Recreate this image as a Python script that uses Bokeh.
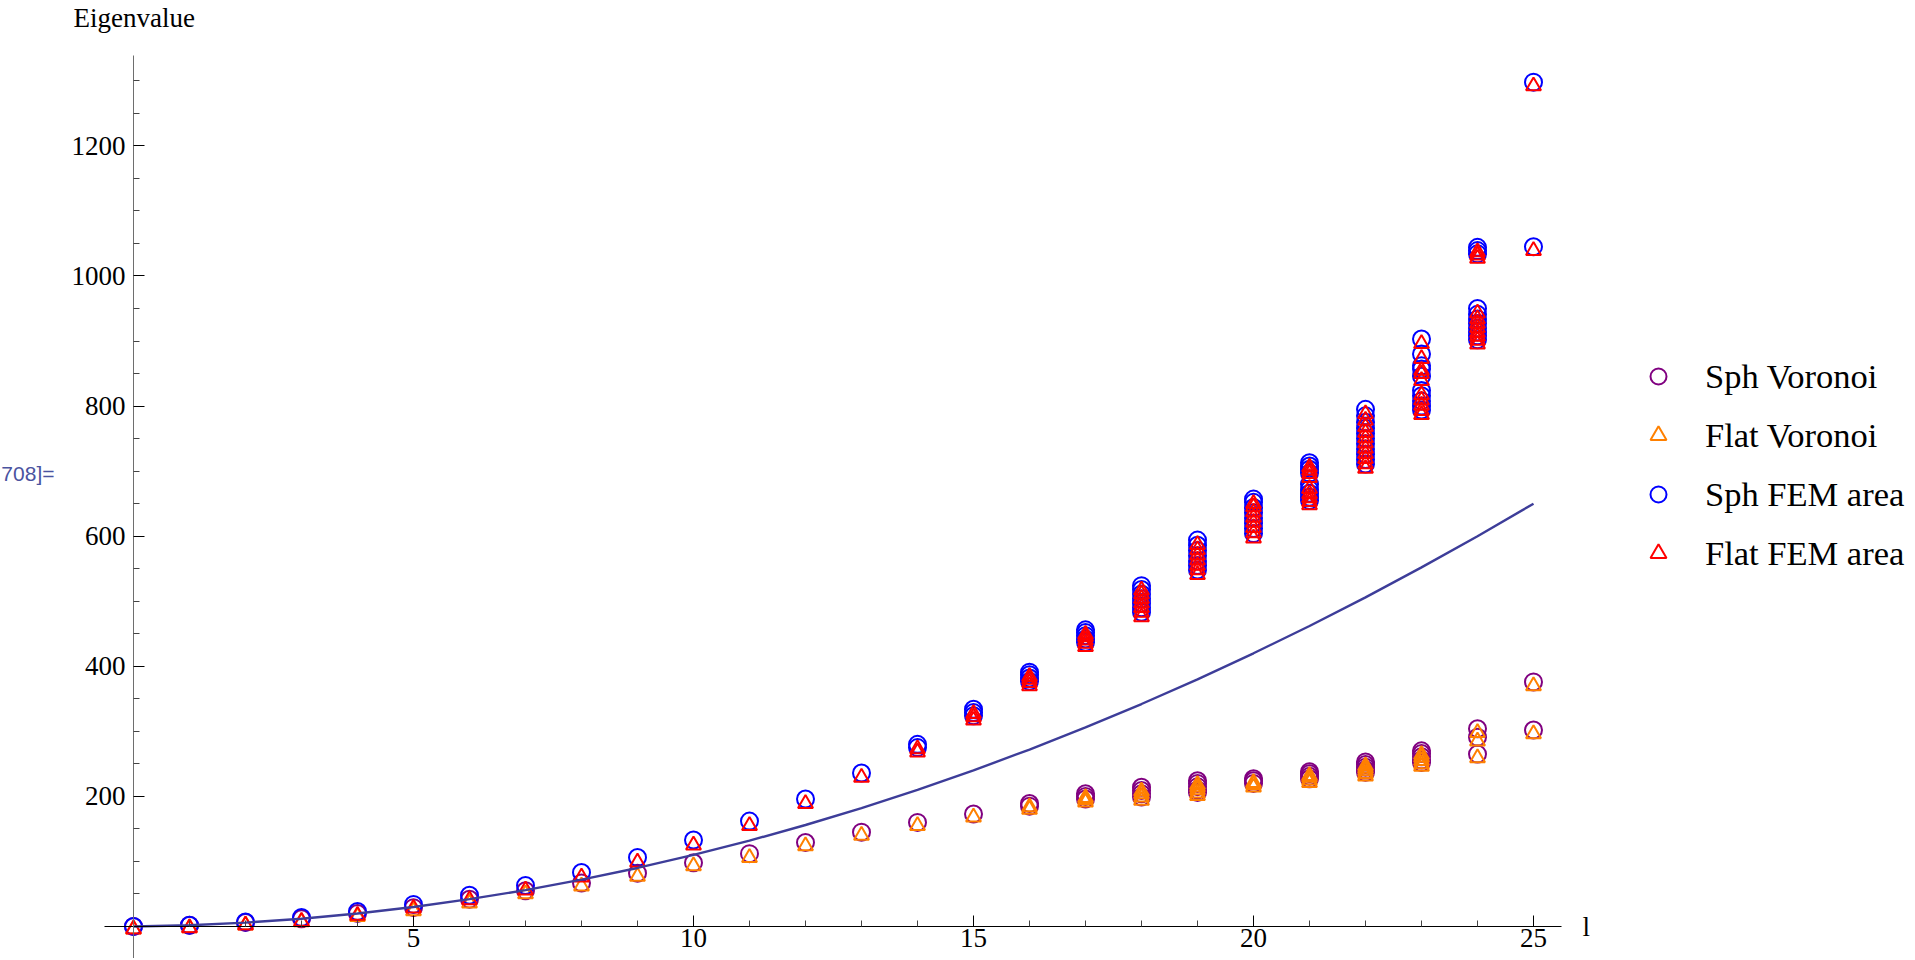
from bokeh.plotting import figure
from bokeh.models import FixedTicker, Legend, LegendItem, Label, Range1d
from bokeh.embed import file_html
from bokeh.resources import INLINE

# ---------------- data ----------------
l_values = list(range(26))

# eigenvalues per l (index = l)
sph_voronoi = [
    [0], [2], [6], [12], [20], [29], [42], [55], [67], [82], [98], [112], [129],
    [145], [160], [173], [185, 189], [196, 200, 204], [199, 204, 209, 214],
    [206, 210, 215, 220, 224], [220, 224, 227], [227, 231, 235, 238],
    [237, 241, 245, 249, 253], [252, 256, 261, 266, 270], [265, 291, 304],
    [302, 376],
]
flat_voronoi = [
    [-4], [-2], [2], [7], [15], [24], [36], [50], [62], [77], [93], [106], [124],
    [140], [155], [168], [180, 184], [191, 195, 198], [194, 199, 204, 208],
    [201, 205, 210, 214, 218], [214, 218, 221], [221, 225, 229, 232],
    [231, 235, 239, 243, 247], [246, 250, 255, 260, 264], [259, 285, 298],
    [296, 370],
]
sph_fem = [
    [0], [2], [7], [14], [23], [34], [48], [63], [83], [106], [133], [162], [196],
    [236], [275, 280], [324, 329, 334], [377, 382, 387, 391],
    [437, 442, 447, 452, 456], [483, 490, 497, 504, 511, 518, 524],
    [548, 555, 562, 570, 578, 586, 594], [604, 612, 620, 628, 636, 644, 652, 657],
    [655, 660, 666, 672, 680, 697, 703, 708, 713],
    [711, 718, 726, 734, 742, 750, 758, 766, 775, 785, 795],
    [794, 800, 808, 816, 824, 846, 857, 862, 880, 903],
    [902, 908, 914, 920, 927, 934, 941, 950, 1034, 1039, 1044],
    [1045, 1298],
]
flat_fem = [
    [-4], [-2], [2], [8], [17], [28], [41], [56], [76], [99], [125], [155], [189],
    [229], [268, 273], [317, 322, 327], [370, 375, 380, 384],
    [430, 435, 440, 445, 449], [476, 483, 490, 497, 504, 511, 517],
    [541, 548, 555, 563, 571, 579, 587], [597, 605, 613, 621, 629, 637, 645, 650],
    [648, 653, 659, 665, 673, 690, 696, 701, 706],
    [704, 711, 719, 727, 735, 743, 751, 759, 768, 778, 788],
    [787, 793, 801, 809, 817, 839, 850, 855, 873, 896],
    [895, 901, 907, 913, 920, 927, 934, 943, 1027, 1032, 1037],
    [1039, 1292],
]
# reference curve l(l+1), read at integer l
curve_l = list(range(26))
curve_y = [0, 2, 6, 12, 20, 30, 42, 56, 72, 90, 110, 132, 156, 182, 210, 240,
           272, 306, 342, 380, 420, 462, 506, 552, 600, 650]

x_major = [5, 10, 15, 20, 25]
x_minor = [1, 2, 3, 4, 6, 7, 8, 9, 11, 12, 13, 14, 16, 17, 18, 19, 21, 22, 23, 24]
y_major = [200, 400, 600, 800, 1000, 1200]
y_minor = [50, 100, 150, 250, 300, 350, 450, 500, 550, 650, 700, 750,
           850, 900, 950, 1050, 1100, 1150, 1250, 1300]

series_names = ["Sph Voronoi", "Flat Voronoi", "Sph FEM area", "Flat FEM area"]
series_colors = ["#800080", "#ff8000", "#0000ff", "#ff0000"]
series_markers = ["circle", "triangle", "circle", "triangle"]
series_sizes = [17, 15, 17, 15]
series_data = [sph_voronoi, flat_voronoi, sph_fem, flat_fem]


def flatten(per_l):
    xs, ys = [], []
    for l, vals in zip(l_values, per_l):
        for v in vals:
            xs.append(l)
            ys.append(v)
    return xs, ys


SERIF = "Liberation Serif"

# the plotting frame fills the whole canvas; the axes cross at the origin
p = figure(width=1910, height=958,
           x_range=Range1d(-2.375, 31.732), y_range=Range1d(-49.19, 1423.5),
           output_backend="svg", toolbar_location=None, title=None,
           min_border_left=0, min_border_right=0,
           min_border_top=0, min_border_bottom=0)
p.outline_line_color = None
p.grid.visible = False
p.background_fill_color = "white"
p.border_fill_color = "white"

p.xaxis.fixed_location = 0
p.yaxis.fixed_location = 0
p.xaxis.bounds = (-0.518, 25.5)
p.yaxis.bounds = (-50, 1339)
p.xaxis.ticker = FixedTicker(ticks=x_major, minor_ticks=x_minor)
p.yaxis.ticker = FixedTicker(ticks=y_major, minor_ticks=y_minor)
for ax in (p.xaxis, p.yaxis):
    ax.major_tick_in = 11
    ax.major_tick_out = 0
    ax.minor_tick_in = 6
    ax.minor_tick_out = 0
    ax.major_tick_line_color = "black"
    ax.minor_tick_line_color = "#444444"
    ax.major_label_text_font = SERIF
    ax.major_label_text_font_size = "27px"
    ax.major_label_text_color = "black"
p.xaxis.axis_line_color = "black"
p.yaxis.axis_line_color = "#6e6e6e"
p.xaxis.major_label_standoff = 2
p.yaxis.major_label_standoff = 8

renderers = []
for name, col, mk, sz, data in zip(series_names, series_colors, series_markers,
                                   series_sizes, series_data):
    xs, ys = flatten(data)
    r = p.scatter(xs, ys, marker=mk, size=sz, fill_color=None,
                  line_color=col, line_width=2.0)
    renderers.append(r)

p.line(curve_l, curve_y, line_color="#3d3d99", line_width=2.4)

legend = Legend(
    items=[LegendItem(label=n, renderers=[r]) for n, r in zip(series_names, renderers)],
    location=(1638, 385), orientation="vertical",
    glyph_width=40, glyph_height=40, label_height=40, spacing=19,
    label_standoff=27, padding=0, margin=0,
    border_line_color=None, background_fill_alpha=0,
    label_text_font=SERIF, label_text_font_size="34.5px",
    label_text_color="black",
)
p.add_layout(legend)

p.add_layout(Label(x=-1.07, y=1397, text="Eigenvalue", text_font=SERIF,
                   text_font_size="27px", text_baseline="alphabetic",
                   text_align="left", text_color="black"))
p.add_layout(Label(x=25.875, y=0, text="l", text_font=SERIF,
                   text_font_size="27px", text_baseline="middle",
                   text_align="left", text_color="black"))
p.add_layout(Label(x=-2.36, y=696, text="708]=", text_font="Liberation Sans",
                   text_font_size="21px", text_baseline="middle",
                   text_align="left", text_color="#4a53a0"))

open("out.html", "w").write(file_html(p, INLINE))
